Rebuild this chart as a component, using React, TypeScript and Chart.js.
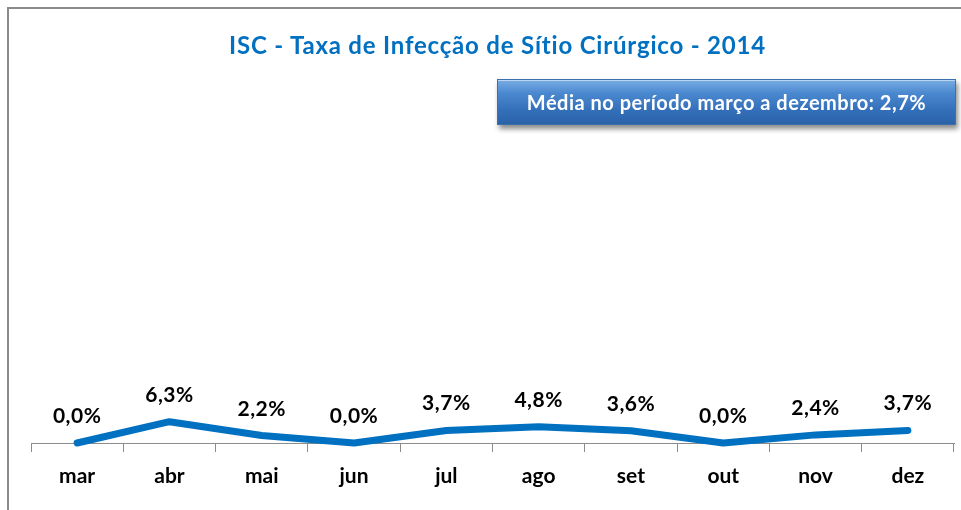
import React, { useEffect, useRef } from "react";
import { Chart, registerables } from "chart.js";

Chart.register(...registerables);

const categories = ["mar", "abr", "mai", "jun", "jul", "ago", "set", "out", "nov", "dez"];
const rates = [0.0, 6.3, 2.2, 0.0, 3.7, 4.8, 3.6, 0.0, 2.4, 3.7];
const titleText = "ISC - Taxa de Infecção de Sítio Cirúrgico - 2014";
const averageText = "Média no período março a dezembro: 2,7%";
const yMin = 0;
const yMax = 100;

const fmt = (v: number) => v.toFixed(1).replace(".", ",") + "%";

const FONT = "Lato, 'Open Sans', sans-serif";

const pointLabels = {
  id: "pointLabels",
  afterDatasetsDraw(chart: any) {
    const ctx = chart.ctx;
    const meta = chart.getDatasetMeta(0);
    ctx.save();
    ctx.font = `bold 21px ${FONT}`;
    try {
      (ctx as any).letterSpacing = "0.5px";
    } catch (e) {}
    ctx.fillStyle = "#000000";
    ctx.textAlign = "center";
    ctx.textBaseline = "alphabetic";
    meta.data.forEach((pt: any, i: number) => {
      ctx.fillText(fmt(rates[i]), pt.x, pt.y - 20);
    });
    ctx.restore();
  },
};

export default function App() {
  const canvasRef = useRef<HTMLCanvasElement | null>(null);

  useEffect(() => {
    document.body.style.margin = "0";
    const canvas = canvasRef.current;
    if (!canvas) return;
    const chart = new Chart(canvas, {
      type: "line",
      data: {
        labels: categories,
        datasets: [
          {
            data: rates,
            borderColor: "#0070C0",
            backgroundColor: "#0070C0",
            borderWidth: 7,
            pointRadius: 0,
            tension: 0,
            borderCapStyle: "round",
            borderJoinStyle: "round",
            clip: false as any,
          },
        ],
      },
      options: {
        animation: false,
        responsive: false,
        maintainAspectRatio: false,
        layout: { padding: { top: 105, left: 31, right: 7, bottom: 0 } },
        plugins: {
          legend: { display: false },
          tooltip: { enabled: false },
          title: { display: false },
        },
        scales: {
          x: {
            offset: true,
            grid: {
              display: true,
              offset: true,
              drawOnChartArea: false,
              tickLength: 9,
              color: "#8c8c8c",
              lineWidth: 1,
            },
            border: { display: true, color: "#8c8c8c", width: 1 },
            ticks: {
              font: { family: FONT, size: 21, weight: "bold" },
              color: "#000000",
              padding: 12,
            },
            afterFit: (s: any) => {
              s.height = 67;
            },
          } as any,
          y: { display: false, min: yMin, max: yMax },
        },
      },
      plugins: [pointLabels],
    });
    return () => chart.destroy();
  }, []);

  return (
    <div
      style={{
        position: "fixed",
        left: 0,
        top: 0,
        width: 961,
        height: 510,
        overflow: "hidden",
        background: "#ffffff",
        fontFamily: FONT,
      }}
    >
      <div
        style={{
          position: "absolute",
          left: 7,
          top: 7,
          width: 1200,
          height: 800,
          borderLeft: "2px solid #8a8a8a",
          borderTop: "2px solid #8a8a8a",
        }}
      />
      <canvas
        ref={canvasRef}
        width={961}
        height={510}
        style={{ position: "absolute", left: 0, top: 0, width: 961, height: 510 }}
      />
      <div
        style={{
          position: "absolute",
          left: 0,
          width: 995,
          top: 31,
          textAlign: "center",
          fontSize: 24,
          letterSpacing: "0.8px",
          lineHeight: "28px",
          fontWeight: 700,
          color: "#0070C0",
        }}
      >
        {titleText}
      </div>
      <div
        style={{
          position: "absolute",
          left: 497,
          top: 79,
          width: 459,
          height: 46,
          boxSizing: "border-box",
          border: "1px solid #3b6fae",
          background: "linear-gradient(to bottom, #79ade3 0%, #4a88cf 30%, #336fb9 70%, #2a62a8 100%)",
          boxShadow: "2px 4px 5px rgba(0,0,0,0.45), inset 0 1px 0 rgba(255,255,255,0.5)",
          color: "#ffffff",
          fontSize: 20,
          letterSpacing: "0.5px",
          fontWeight: 700,
          display: "flex",
          alignItems: "center",
          justifyContent: "center",
        }}
      >
        {averageText}
      </div>
    </div>
  );
}
